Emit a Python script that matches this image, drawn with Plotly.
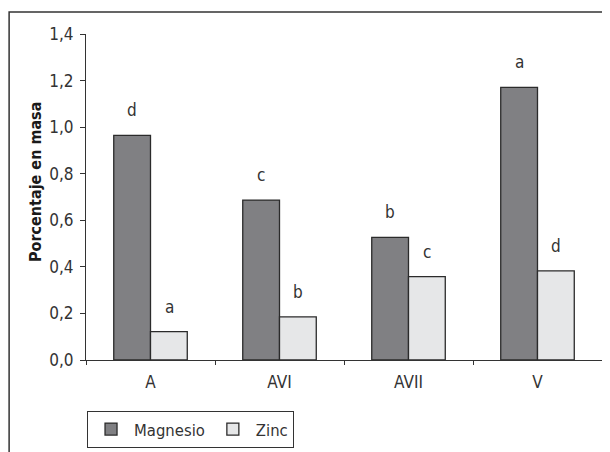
import plotly.graph_objects as go

categories = ["A", "AVI", "AVII", "V"]
magnesio = [0.965, 0.687, 0.527, 1.171]
zinc = [0.122, 0.185, 0.358, 0.383]
mg_letters = ["d", "c", "b", "a"]
zn_letters = ["a", "b", "c", "d"]
y_ticks = [0, 0.2, 0.4, 0.6, 0.8, 1.0, 1.2, 1.4]
y_tick_labels = ["0,0", "0,2", "0,4", "0,6", "0,8", "1,0", "1,2", "1,4"]

FONT = "'DejaVu Sans Condensed', 'Liberation Sans Narrow', 'Liberation Sans', sans-serif"
TXT = "#333333"

fig = go.Figure()
fig.add_trace(go.Bar(name="Magnesio", x=categories, y=magnesio,
                     marker=dict(color="#808083", line=dict(color="#2b2b2b", width=1.3))))
fig.add_trace(go.Bar(name="Zinc", x=categories, y=zinc,
                     marker=dict(color="#e6e7e8", line=dict(color="#2b2b2b", width=1.3))))

annots = []
for c, v, t in zip(categories, magnesio, mg_letters):
    annots.append(dict(x=c, y=v, text=t, showarrow=False, xshift=-18.5, yshift=13,
                       yanchor="bottom", font=dict(family=FONT, size=17, color=TXT)))
for c, v, t in zip(categories, zinc, zn_letters):
    annots.append(dict(x=c, y=v, text=t, showarrow=False, xshift=18.5, yshift=13,
                       yanchor="bottom", font=dict(family=FONT, size=17, color=TXT)))
annots.append(dict(x=-0.0988, y=0.546, xref="paper", yref="paper", text="<b>Porcentaje en masa</b>",
                   textangle=-90, showarrow=False, xanchor="center", yanchor="middle",
                   font=dict(family=FONT, size=16, color="#1a1a1a")))

fig.update_layout(
    template="none",
    width=602, height=444,
    margin=dict(l=78, r=8, t=26, b=92, pad=0, autoexpand=False),
    paper_bgcolor="white", plot_bgcolor="white",
    barmode="group", bargap=0.43, bargroupgap=0,
    font=dict(family=FONT, size=17, color=TXT),
    showlegend=True,
    legend=dict(orientation="h", x=0.002, y=-0.156, xanchor="left", yanchor="top",
                bordercolor="#333333", borderwidth=1, bgcolor="white", itemwidth=36,
                font=dict(family=FONT, size=16.5, color=TXT), traceorder="normal"),
    annotations=annots,
    shapes=[dict(type="rect", xref="paper", yref="paper", x0=-0.149, x1=1.2,
                 y0=-0.6, y1=1.0675, line=dict(color="#333333", width=1.5), layer="below")],
    xaxis=dict(showline=True, linecolor="#333333", linewidth=1, ticks="outside",
               tickson="boundaries", ticklen=4, tickcolor="#333333", showgrid=False,
               zeroline=False, automargin=False, ticklabelstandoff=7,
               tickfont=dict(family=FONT, size=17, color=TXT)),
    yaxis=dict(range=[0, 1.4], showline=True, linecolor="#333333", linewidth=1,
               ticks="outside", ticklen=5, tickcolor="#333333", tickvals=y_ticks,
               ticktext=y_tick_labels, showgrid=False, zeroline=False, automargin=False,
               ticklabelstandoff=3, tickfont=dict(family=FONT, size=17, color=TXT)),
)

fig.write_html("out.html")
